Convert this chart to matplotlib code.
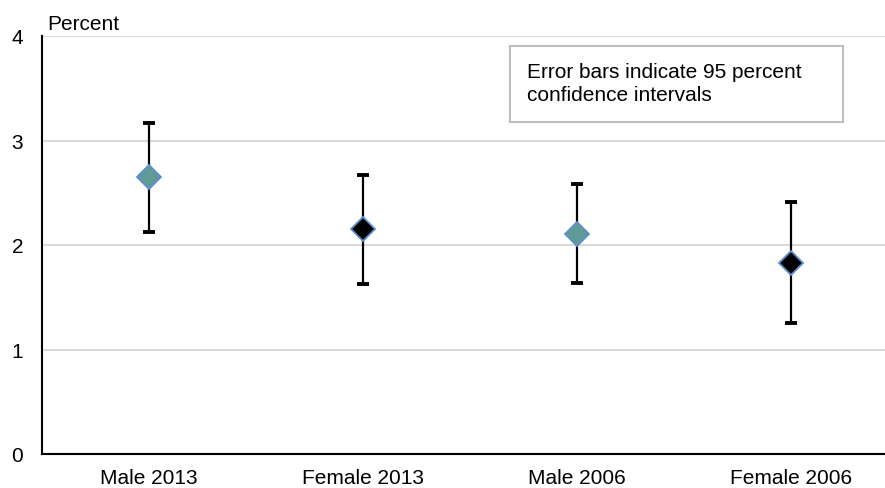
import matplotlib.pyplot as plt

# groups and estimates with 95% confidence bounds
groups = ["Male 2013", "Female 2013", "Male 2006", "Female 2006"]
estimate = [2.65, 2.15, 2.11, 1.83]
upper = [3.17, 2.67, 2.58, 2.41]
lower = [2.12, 1.63, 1.64, 1.25]
face_colors = ["#5F9A96", "#000000", "#5F9A96", "#000000"]

plt.rcParams['font.family'] = ['Liberation Sans', 'DejaVu Sans']

fig = plt.figure(figsize=(8.85, 4.89), dpi=100)
ax = fig.add_axes([42 / 885, 1 - 455 / 489, 843 / 885, 418 / 489])

xs = list(range(len(groups)))
for x, est, hi, lo, fc in zip(xs, estimate, upper, lower, face_colors):
    ax.errorbar(x, est, yerr=[[est - lo], [hi - est]], fmt='none',
                ecolor='black', elinewidth=1.6, capsize=4.6, capthick=2.8, zorder=3)
    ax.plot(x, est, marker='D', markersize=12.5, markerfacecolor=fc,
            markeredgecolor='#5B8FD0', markeredgewidth=1.3, zorder=4)

ax.set_xlim(-0.5, -0.5 + 843 / 214)
ax.set_ylim(0, 4)
ax.set_yticks([0, 1, 2, 3, 4])
ax.set_xticks(xs)
ax.set_xticklabels(groups)
ax.tick_params(axis='both', length=0, labelsize=15)
ax.tick_params(axis='y', pad=13.5)
ax.tick_params(axis='x', pad=10)

ax.grid(axis='y', color='#D9D9D9', linewidth=1.5)
ax.set_axisbelow(True)
for side in ['top', 'right']:
    ax.spines[side].set_visible(False)
for side in ['left', 'bottom']:
    ax.spines[side].set_linewidth(1.5)
    ax.spines[side].set_color('black')
ax.spines['bottom'].set_zorder(5)

fig.text(47 / 885, 1 - 30 / 489, "Percent", fontsize=15, ha='left', va='baseline')

# note box over the plot area
box = plt.Rectangle((510 / 885, 1 - 123 / 489), 333 / 885, 76 / 489,
                    transform=fig.transFigure, facecolor='white',
                    edgecolor='#BFBFBF', linewidth=1.5, zorder=2)
fig.patches.append(box)
fig.text(527 / 885, 1 - 84 / 489,
         "Error bars indicate 95 percent\nconfidence intervals",
         fontsize=15, ha='left', va='center', linespacing=1.3, zorder=3)

fig.savefig('out.png', dpi=100)
